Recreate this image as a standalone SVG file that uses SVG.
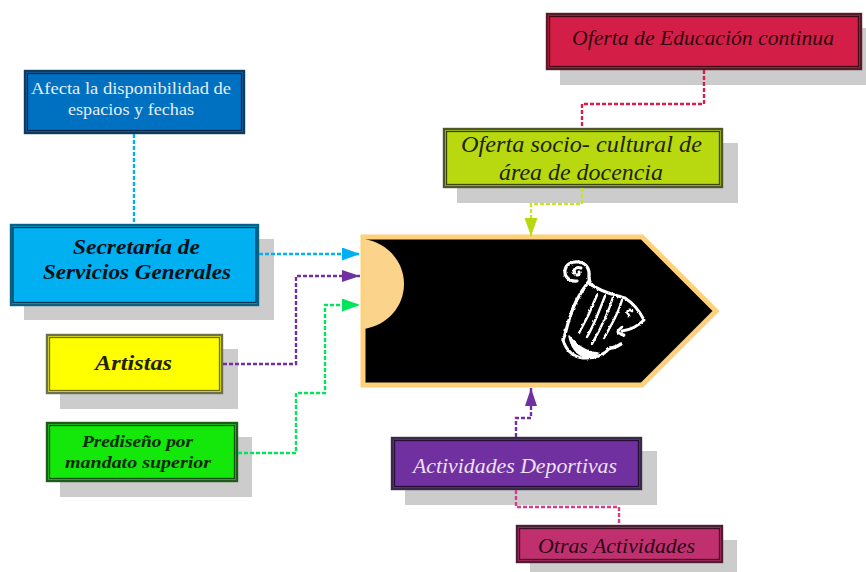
<svg xmlns="http://www.w3.org/2000/svg" width="866" height="572" viewBox="0 0 866 572">
<style>
text{font-family:"Liberation Serif","Times New Roman",serif;font-style:italic;text-anchor:middle}
.sh{fill:#cccccc}
.c{fill:none;stroke-width:2.4;stroke-dasharray:4 2}
.o{stroke-width:2.4}
.i{fill:none;stroke-width:1.3}
.harp{fill:none;stroke:#fff;stroke-linecap:round;stroke-linejoin:round}
</style>
<defs>
<filter id="rough" x="-10%" y="-10%" width="120%" height="120%"><feTurbulence type="fractalNoise" baseFrequency="0.35" numOctaves="2" seed="4"/><feDisplacementMap in="SourceGraphic" scale="2.6" xChannelSelector="R" yChannelSelector="G"/></filter>
<marker id="aBlue" markerUnits="userSpaceOnUse" markerWidth="20" markerHeight="14" refX="18" refY="6.5" orient="auto"><path d="M0 0L18 6.500L0 13Z" fill="#00B0F0"/></marker>
<marker id="aPurple" markerUnits="userSpaceOnUse" markerWidth="20" markerHeight="14" refX="18" refY="6" orient="auto"><path d="M0 0L18 6L0 12Z" fill="#7030A0"/></marker>
<marker id="aGreen" markerUnits="userSpaceOnUse" markerWidth="20" markerHeight="14" refX="18" refY="6.500" orient="auto"><path d="M0 0L18 6.500L0 13Z" fill="#00E65C"/></marker>
<marker id="aLime" markerUnits="userSpaceOnUse" markerWidth="20" markerHeight="14" refX="18" refY="6.500" orient="auto"><path d="M0 0L18 6.500L0 13Z" fill="#B5D80F"/></marker>
</defs>
<rect width="866" height="572" fill="#fff"/>

<g id="main-shape">
<path d="M363 237H642L716 311L642 385H363Z" fill="#000" stroke="#FFD07A" stroke-width="5"/>
<path d="M364 239C388 243 404 262 404 284C404 306 388 325 364 329Z" fill="#FBD38A"/>
<g class="harp" filter="url(#rough)">
<path d="M577 281C569 282 564 276 565 270C566 264 572 261 579 262C587 263 590 270 589 277C589 281 590 283 592 285" stroke-width="3.2"/>
<path d="M581 268C576 266 572 270 575 274C577 276 580 275 579 272" stroke-width="3"/>
<path d="M589 281C580 293 573 305 570 317C567 325 566 333 563 340" stroke-width="3.2"/>
<path d="M589 283C600 292 615 295 625 298C633 303 640 312 644 320C638 326 630 330 622 331" stroke-width="3"/>
<path d="M597 295C592 308 587 319 579 333" stroke-width="2.4"/>
<path d="M605 296C600 309 594 325 587 337" stroke-width="2.4"/>
<path d="M613 297C609 311 602 326 592 344" stroke-width="2.4"/>
<path d="M622 300C618 315 611 325 604 338" stroke-width="2.4"/>
<path d="M632 311C628 308 626 312 629 316M622 327C617 331 616 333 622 334C623 335 624 336 624 335" stroke-width="2.8"/>
<path d="M563 340C566 350 572 356 582 358C596 359 604 355 610 348" stroke-width="2.800"/>
<path d="M569 336C571 348 578 355 586 358C592 358 596 356 598 353C586 352 577 346 569 336Z" fill="#fff" stroke-width="1.500"/>
<path d="M610 348C615 348 618 346 621 344" stroke-width="3.400"/>
</g>
</g>

<g id="n-afecta">
<rect class="o" x="25" y="71" width="219" height="62" fill="#0070C0" stroke="#10395A"/>
<rect class="i" x="27.500" y="73.500" width="214" height="57" stroke="#00274A"/>
<text x="131" y="94" font-size="16" fill="#E4EEF8" textLength="200" lengthAdjust="spacingAndGlyphs" style="font-style:normal">Afecta la disponibilidad de</text>
<text x="131" y="115" font-size="16" fill="#E4EEF8" textLength="126" lengthAdjust="spacingAndGlyphs" style="font-style:normal">espacios y fechas</text>
</g>

<g id="n-secretaria">
<rect class="sh" x="24" y="239" width="250" height="81"/>
<rect class="o" x="11" y="225" width="247" height="80" fill="#00B0F0" stroke="#0B5F80"/>
<rect class="i" x="13" y="227.500" width="243" height="75" stroke="#00364F"/>
<text x="136.500" y="254" font-size="21" font-weight="bold" fill="#02101A" textLength="127" lengthAdjust="spacingAndGlyphs">Secretaría de</text>
<text x="137" y="279" font-size="21" font-weight="bold" fill="#02101A" textLength="188" lengthAdjust="spacingAndGlyphs">Servicios Generales</text>
</g>

<g id="n-artistas">
<rect class="sh" x="60" y="349" width="178" height="60"/>
<rect class="o" x="47" y="335" width="175" height="58" fill="#FFFF00" stroke="#6E6E50"/>
<rect class="i" x="49.500" y="337.500" width="170" height="53" stroke="#6F6F00"/>
<text x="133.500" y="370" font-size="21" font-weight="bold" fill="#222200" textLength="77" lengthAdjust="spacingAndGlyphs">Artistas</text>
</g>

<g id="n-prediseno">
<rect class="sh" x="60" y="437" width="192" height="60"/>
<rect class="o" x="47" y="423" width="190" height="58" fill="#14E70A" stroke="#1F5A1A"/>
<rect class="i" x="49.500" y="425.500" width="185" height="53" stroke="#074A03"/>
<text x="137.500" y="447" font-size="17" font-weight="bold" fill="#052A02" textLength="111" lengthAdjust="spacingAndGlyphs">Prediseño por</text>
<text x="138" y="468" font-size="17" font-weight="bold" fill="#052A02" textLength="146" lengthAdjust="spacingAndGlyphs">mandato superior</text>
</g>

<g id="n-educacion">
<rect class="sh" x="560" y="28" width="306" height="57"/>
<rect class="o" x="547" y="14" width="314" height="55" fill="#D31F47" stroke="#5A1A2A"/>
<rect class="i" x="549.500" y="16.500" width="309" height="50" stroke="#3F0914"/>
<text x="703" y="45" font-size="21" fill="#30060F" textLength="262" lengthAdjust="spacingAndGlyphs">Oferta de Educación continua</text>
</g>

<g id="n-socio">
<rect class="sh" x="457" y="143" width="281" height="60"/>
<rect class="o" x="444" y="129" width="278" height="58" fill="#B8D90F" stroke="#4E5630"/>
<rect class="i" x="446.500" y="131.500" width="273" height="53" stroke="#3C4705"/>
<text x="581.500" y="152" font-size="24" fill="#1E2400" textLength="241" lengthAdjust="spacingAndGlyphs">Oferta socio- cultural de</text>
<text x="581" y="180" font-size="24" fill="#1E2400" textLength="164" lengthAdjust="spacingAndGlyphs">área de docencia</text>
</g>

<g id="n-deportivas">
<rect class="sh" x="405" y="451" width="252" height="54"/>
<rect class="o" x="392" y="438" width="249" height="51" fill="#7030A0" stroke="#3A2A4A"/>
<rect class="i" x="394.500" y="440.500" width="244" height="46" stroke="#250E38"/>
<text x="515" y="473" font-size="21" fill="#EBE0F2" textLength="204" lengthAdjust="spacingAndGlyphs">Actividades Deportivas</text>
</g>

<g id="n-otras">
<rect class="sh" x="530" y="540" width="207" height="32"/>
<rect class="o" x="517" y="526" width="205" height="36" fill="#C0306F" stroke="#4A2034"/>
<rect class="i" x="519.500" y="528.500" width="200" height="31" stroke="#3E0E24"/>
<text x="616.500" y="553" font-size="21" fill="#2A0716" textLength="157" lengthAdjust="spacingAndGlyphs">Otras Actividades</text>
</g>

<g id="connectors">
<path class="c" stroke="#00B0F0" d="M134 134V224"/>
<path class="c" stroke="#00B0F0" d="M259 254H360" marker-end="url(#aBlue)"/>
<path class="c" stroke="#7030A0" d="M223 364H296V276H360" marker-end="url(#aPurple)"/>
<path class="c" stroke="#00E65C" d="M238 453H296V393H325V305H360" marker-end="url(#aGreen)"/>
<path class="c" stroke="#D61F47" d="M704 70V104H582V128"/>
<path class="c" stroke="#C4E62A" d="M582 188V204H531V236" marker-end="url(#aLime)"/>
<path class="c" stroke="#7030A0" d="M516 437V418H531V388" marker-end="url(#aPurple)"/>
<path class="c" stroke="#D83B8A" d="M516 490V507H619V525"/>
</g>
</svg>
